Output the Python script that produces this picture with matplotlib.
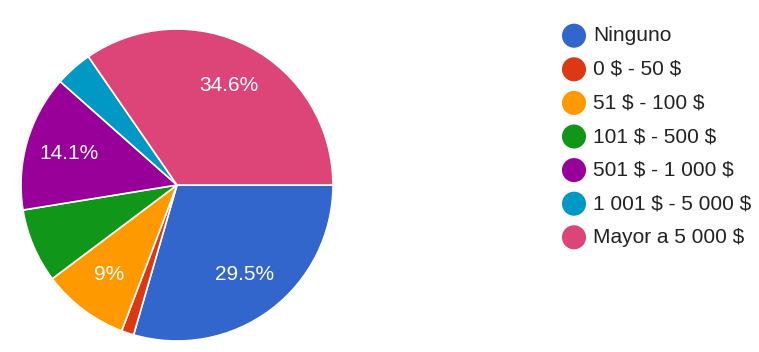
import matplotlib.pyplot as plt

categories = ["Ninguno", "0 $ - 50 $", "51 $ - 100 $", "101 $ - 500 $",
              "501 $ - 1 000 $", "1 001 $ - 5 000 $", "Mayor a 5 000 $"]
counts = [23, 1, 7, 6, 11, 3, 27]
colors = ["#3366cc", "#dc3912", "#ff9900", "#109618",
          "#990099", "#0099c6", "#dd4477"]

W, H = 759, 352
fig = plt.figure(figsize=(W / 100, H / 100), dpi=100)
plt.rcParams["font.family"] = ["Liberation Sans", "DejaVu Sans"]

# pie axes: centre (177, 185) px, radius 156 px
cx, cy, r = 177, 185, 156
ax = fig.add_axes([(cx - r) / W, (H - cy - r) / H, 2 * r / W, 2 * r / H])


def pct_label(p):
    if p < 8.5:
        return ""
    s = f"{p:.1f}"
    if s.endswith(".0"):
        s = s[:-2]
    return s + "%"


wedges, texts, autotexts = ax.pie(
    counts, colors=colors, startangle=0, counterclock=False,
    autopct=pct_label, pctdistance=0.72,
    wedgeprops=dict(edgecolor="white", linewidth=1.2),
    textprops=dict(color="white", fontsize=15))
ax.set_xlim(-1, 1)
ax.set_ylim(-1, 1)
ax.set_aspect("equal")
ax.axis("off")

# legend drawn in pixel coordinates
lg = fig.add_axes([0, 0, 1, 1])
lg.set_xlim(0, W)
lg.set_ylim(H, 0)
lg.axis("off")
y0, step = 35.7, 33.6
for i, (name, col) in enumerate(zip(categories, colors)):
    y = y0 + i * step
    lg.scatter([574], [y], s=300, color=col, edgecolors="none")
    lg.text(593, y, name, fontsize=15, color="#222222", va="center",
            ha="left", parse_math=False)

fig.savefig("out.png", dpi=100, facecolor="white")
